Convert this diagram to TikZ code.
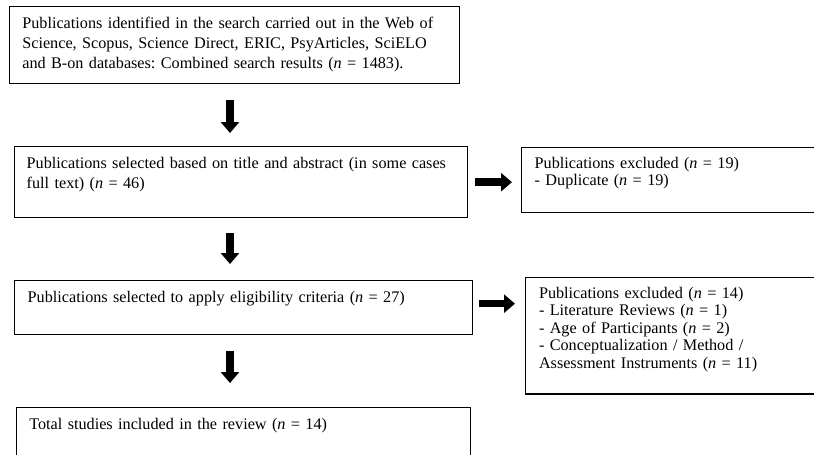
\documentclass[tikz,border=0pt]{standalone}
\usepackage{fontspec}
\setmainfont{Liberation Serif}
\usetikzlibrary{arrows.meta}
\frenchspacing

\begin{document}
\begin{tikzpicture}[x=0.75pt,y=-0.75pt,
        box/.style={draw, line width=1pt, anchor=north west, align=left, inner ysep=0pt, text height=16pt, font=\fontsize{12.15}{15.15}\selectfont},
        sidebox/.style={box, font=\fontsize{12.15}{13.1}\selectfont},
        thickarrow/.style={line width=5.6pt, -{Triangle[width=13.5pt,length=8.25pt]}}]
        \useasboundingbox (0,0) rectangle (814,454);
        \clip (0,0) rectangle (814,454);

        %main column
        \node[box, inner xsep=9.5pt, text width=318.5pt, text depth=41.75pt] (search) at (9,6)
            {Publications identified in the search carried out in the Web of\\
             Science, Scopus, Science Direct, ERIC, PsyArticles, SciELO\\
             and B-on databases: Combined search results (\textit{n} = 1483).};
        \node[box, inner xsep=9.4pt, text width=321.3pt, text depth=37.25pt] (screened) at (13.5,146)
            {Publications selected based on title and abstract (in some cases\\
             full text) (\textit{n} = 46)};
        \node[box, inner xsep=9.75pt, text width=324pt, text depth=24.5pt] (eligible) at (14,280)
            {Publications selected to apply eligibility criteria (\textit{n} = 27)};
        \node[box, inner xsep=9.5pt, text width=321.5pt, text depth=44pt] (included) at (16,407)
            {Total studies included in the review (\textit{n} = 14)};

        %excluded
        \node[sidebox, inner xsep=9.75pt, text width=220.5pt, text depth=32.9pt, text height=15.5pt] (duplicates) at (521,147)
            {Publications excluded (\textit{n} = 19)\\
             - Duplicate (\textit{n} = 19)};
        \node[sidebox, inner xsep=10pt, text width=206pt, text depth=71.5pt] (excluded) at (525,276.5)
            {Publications excluded (\textit{n} = 14)\\
             - Literature Reviews (\textit{n} = 1)\\
             - Age of Participants (\textit{n} = 2)\\
             - Conceptualization / Method /\\
             Assessment Instruments (\textit{n} = 11)};

        %arrows
        \coordinate (axis) at (230,0);
        \draw[thickarrow, shorten <=12pt, shorten >=9.75pt] (search.south -| axis) -- (screened.north -| axis);
        \draw[thickarrow, shorten <=11.25pt, shorten >=12pt] (screened.south -| axis) -- (eligible.north -| axis);
        \draw[thickarrow, shorten <=12pt, shorten >=18pt] (eligible.south -| axis) -- (included.north -| axis);

        \draw[thickarrow, shorten <=5.25pt, shorten >=6.75pt] (screened.east) -- (screened.east -| duplicates.west);
        \coordinate (side) at ([yshift=3pt]eligible.east);
        \draw[thickarrow, shorten <=4.5pt, shorten >=7.5pt] (side) -- (side -| excluded.west);
    \end{tikzpicture}
\end{document}
